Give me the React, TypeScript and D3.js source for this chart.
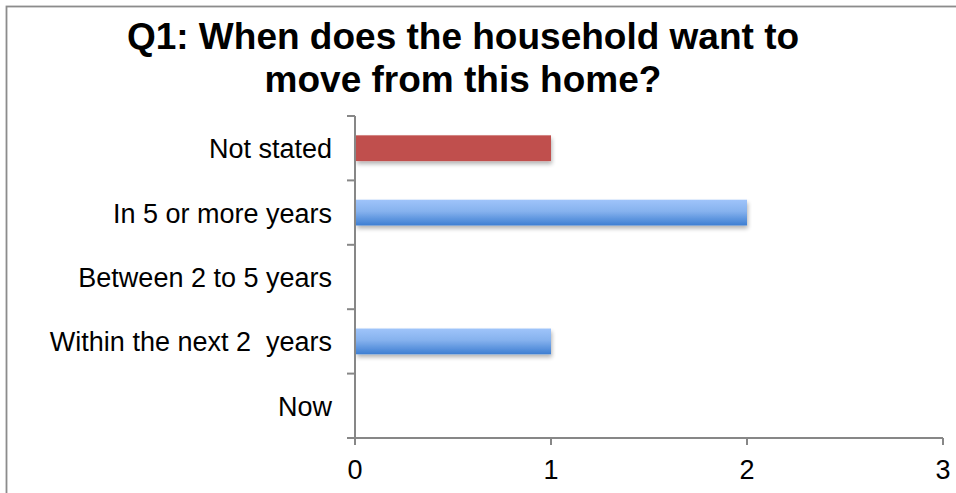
import React from "react";
import * as d3 from "d3";

const categories = ["Now", "Within the next 2  years", "Between 2 to 5 years", "In 5 or more years", "Not stated"];
const values = [0, 1, 0, 2, 1];
const barColors = ["blue", "blue", "blue", "blue", "red"];
const xTicks = [0, 1, 2, 3];
const titleLines = ["Q1: When does the household want to", "move from this home?"];

const W = 956;
const H = 493;
const plot = { left: 355, right: 943, top: 116, bottom: 438 };
const FONT = "'Liberation Sans', Arial, sans-serif";

export default function App() {
  const x = d3.scaleLinear().domain([0, 3]).range([plot.left, plot.right]);
  const y = d3
    .scaleBand<string>()
    .domain([...categories].reverse())
    .range([plot.top, plot.bottom])
    .paddingInner(0.6)
    .paddingOuter(0.3);
  const bandStep = (plot.bottom - plot.top) / categories.length;
  const boundaries = d3.range(categories.length + 1).map((i) => plot.top + i * bandStep);
  const axisColor = "#878787";

  return (
    <div style={{ position: "fixed", left: 0, top: 0 }}>
      <svg width={W} height={H} style={{ display: "block", background: "#fff" }}>
        <defs>
          <linearGradient id="blueGrad" x1="0" y1="0" x2="0" y2="1">
            <stop offset="0" stopColor="#9fc4fa" />
            <stop offset="0.45" stopColor="#86b2ee" />
            <stop offset="1" stopColor="#3d7ed2" />
          </linearGradient>
          <filter id="shadow" x="-5%" y="-20%" width="115%" height="160%">
            <feGaussianBlur in="SourceAlpha" stdDeviation="2" />
            <feOffset dx="1" dy="3" result="blur" />
            <feComponentTransfer>
              <feFuncA type="linear" slope="0.3" />
            </feComponentTransfer>
            <feMerge>
              <feMergeNode />
              <feMergeNode in="SourceGraphic" />
            </feMerge>
          </filter>
        </defs>
        <rect x={6.5} y={6.5} width={960} height={500} fill="#fff" stroke="#8c8c8c" strokeWidth={1.8} />
        {titleLines.map((t, i) => (
          <text
            key={i}
            x={463}
            y={49 + i * 43}
            textAnchor="middle"
            fontFamily={FONT}
            fontWeight="bold"
            fontSize={37}
            fill="#000"
          >
            {t}
          </text>
        ))}
        {categories.map((c, i) =>
          values[i] > 0 ? (
            <rect
              key={c}
              x={x(0) + 1}
              y={y(c)!}
              width={x(values[i]) - x(0) - 1}
              height={y.bandwidth()}
              fill={barColors[i] === "red" ? "#c0504d" : "url(#blueGrad)"}
              filter="url(#shadow)"
            />
          ) : null
        )}
        <line x1={plot.left} x2={plot.left} y1={plot.top} y2={plot.bottom} stroke={axisColor} strokeWidth={2} />
        {boundaries.map((b, i) => (
          <line key={i} x1={plot.left - 8} x2={plot.left} y1={b} y2={b} stroke={axisColor} strokeWidth={2} />
        ))}
        <line x1={plot.left} x2={plot.right} y1={plot.bottom} y2={plot.bottom} stroke={axisColor} strokeWidth={2} />
        {xTicks.map((t) => (
          <g key={t}>
            <line x1={x(t)} x2={x(t)} y1={plot.bottom} y2={plot.bottom + 7} stroke={axisColor} strokeWidth={2} />
            <text x={x(t)} y={plot.bottom + 41} textAnchor="middle" fontFamily={FONT} fontSize={27} fill="#000">
              {t}
            </text>
          </g>
        ))}
        {categories.map((c) => (
          <text
            key={c}
            x={332}
            y={y(c)! + y.bandwidth() / 2 + 10}
            textAnchor="end"
            fontFamily={FONT}
            fontSize={27}
            fill="#000"
            style={{ whiteSpace: "pre" }}
          >
            {c}
          </text>
        ))}
      </svg>
    </div>
  );
}
